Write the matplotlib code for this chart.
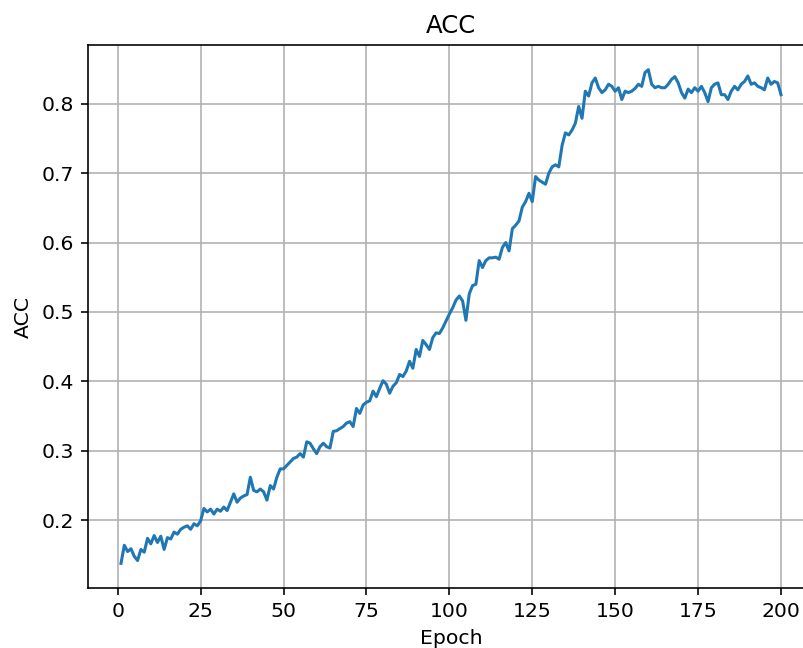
import matplotlib
matplotlib.use("Agg")
import matplotlib.pyplot as plt

epochs = list(range(1, 201))
acc = [
    0.138, 0.164, 0.155, 0.159, 0.148, 0.142, 0.158, 0.154, 0.174, 0.166,
    0.178, 0.168, 0.177, 0.158, 0.175, 0.173, 0.183, 0.180, 0.187, 0.190,
    0.192, 0.187, 0.195, 0.192, 0.199, 0.217, 0.212, 0.216, 0.209, 0.216,
    0.213, 0.219, 0.214, 0.226, 0.238, 0.226, 0.232, 0.235, 0.237, 0.262,
    0.243, 0.241, 0.245, 0.241, 0.229, 0.250, 0.245, 0.262, 0.274, 0.274,
    0.279, 0.284, 0.289, 0.291, 0.296, 0.291, 0.313, 0.311, 0.303, 0.296,
    0.306, 0.311, 0.306, 0.304, 0.328, 0.329, 0.332, 0.335, 0.340, 0.342,
    0.335, 0.361, 0.354, 0.366, 0.370, 0.372, 0.386, 0.378, 0.390, 0.401,
    0.396, 0.383, 0.393, 0.398, 0.410, 0.407, 0.415, 0.429, 0.419, 0.446,
    0.436, 0.459, 0.453, 0.446, 0.463, 0.470, 0.469, 0.477, 0.487, 0.497,
    0.506, 0.517, 0.523, 0.516, 0.488, 0.526, 0.538, 0.540, 0.574, 0.564,
    0.574, 0.578, 0.578, 0.579, 0.576, 0.593, 0.600, 0.588, 0.620, 0.625,
    0.631, 0.651, 0.659, 0.671, 0.659, 0.695, 0.690, 0.687, 0.684, 0.700,
    0.709, 0.712, 0.709, 0.740, 0.758, 0.755, 0.762, 0.772, 0.796, 0.779,
    0.818, 0.811, 0.830, 0.837, 0.823, 0.816, 0.820, 0.828, 0.825, 0.818,
    0.823, 0.806, 0.818, 0.816, 0.818, 0.822, 0.828, 0.825, 0.845, 0.849,
    0.828, 0.823, 0.825, 0.823, 0.823, 0.828, 0.835, 0.839, 0.830, 0.816,
    0.808, 0.821, 0.816, 0.823, 0.818, 0.825, 0.816, 0.803, 0.823, 0.828,
    0.830, 0.813, 0.813, 0.806, 0.818, 0.825, 0.820, 0.828, 0.832, 0.840,
    0.828, 0.830, 0.825, 0.823, 0.820, 0.837, 0.828, 0.832, 0.830, 0.813,
]

DPI = 146.5
W, H = 803, 648
fig = plt.figure(figsize=(W / DPI, H / DPI), dpi=DPI)
ax = fig.add_axes([88 / W, (H - 588) / H, (814 - 88) / W, (588 - 45) / H])
ax.plot(epochs, acc, color="#1f77b4", linewidth=1.5)
ax.set_title("ACC")
ax.set_xlabel("Epoch")
ax.set_ylabel("ACC")
ax.grid(True)
fig.savefig("out.png", dpi=DPI)
